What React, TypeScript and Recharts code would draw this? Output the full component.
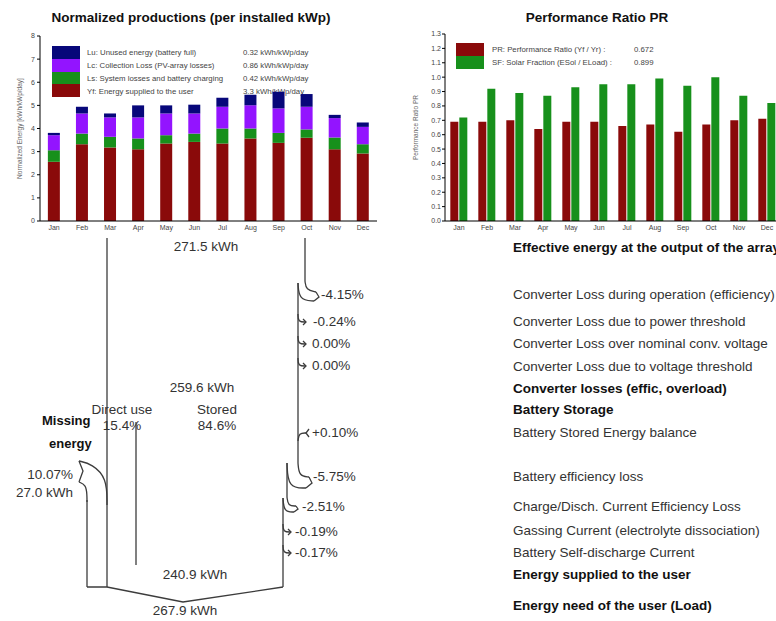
import React from "react";
import { BarChart, Bar, XAxis, YAxis, ComposedChart, Line } from "recharts";

const months = ["Jan", "Feb", "Mar", "Apr", "May", "Jun", "Jul", "Aug", "Sep", "Oct", "Nov", "Dec"];

// normalized productions, kWh/kWp/day (stacked bottom-up)
const yfSupplied = [2.56, 3.32, 3.18, 3.1, 3.35, 3.42, 3.35, 3.57, 3.38, 3.6, 3.1, 2.92];
const lsSystem = [0.5, 0.46, 0.46, 0.47, 0.36, 0.36, 0.65, 0.43, 0.43, 0.36, 0.51, 0.4];
const lcCollection = [0.65, 0.87, 0.84, 0.91, 0.94, 0.87, 0.94, 1.01, 1.06, 0.98, 0.84, 0.75];
const luUnused = [0.1, 0.29, 0.17, 0.52, 0.35, 0.38, 0.39, 0.45, 0.72, 0.55, 0.14, 0.19];

// performance ratio and solar fraction
const prRatio = [0.69, 0.69, 0.7, 0.64, 0.69, 0.69, 0.66, 0.67, 0.62, 0.67, 0.7, 0.71];
const sfFraction = [0.72, 0.92, 0.89, 0.87, 0.93, 0.95, 0.95, 0.99, 0.94, 1.0, 0.87, 0.82];

const energyTicks = [0, 1, 2, 3, 4, 5, 6, 7, 8];
const ratioTicks = [0, 0.1, 0.2, 0.3, 0.4, 0.5, 0.6, 0.7, 0.8, 0.9, 1.0, 1.1, 1.2, 1.3];
const monthEdges = [1, 2, 3, 4, 5, 6, 7, 8, 9, 10, 11];

const productionLegend = [
  { key: "lu", name: "Lu: Unused energy (battery full)", value: "0.32 kWh/kWp/day" },
  { key: "lc", name: "Lc: Collection Loss (PV-array losses)", value: "0.86 kWh/kWp/day" },
  { key: "ls", name: "Ls: System losses and battery charging", value: "0.42 kWh/kWp/day" },
  { key: "yf", name: "Yf: Energy supplied to the user", value: "3.3 kWh/kWp/day" },
];
const ratioLegend = [
  { key: "pr", name: "PR: Performance Ratio (Yf / Yr) :", value: "0.672" },
  { key: "sf", name: "SF: Solar Fraction (ESol / ELoad) :", value: "0.899" },
];

// loss diagram texts
const lossPercents = ["-4.15%", "-0.24%", "0.00%", "0.00%", "+0.10%", "-5.75%", "-2.51%", "-0.19%", "-0.17%"];
const flowSteps = [
  "Effective energy at the output of the array",
  "Converter Loss during operation (efficiency)",
  "Converter Loss due to power threshold",
  "Converter Loss over nominal conv. voltage",
  "Converter Loss due to voltage threshold",
  "Converter losses (effic, overload)",
  "Battery Storage",
  "Battery Stored Energy balance",
  "Battery efficiency loss",
  "Charge/Disch. Current Efficiency Loss",
  "Gassing Current (electrolyte dissociation)",
  "Battery Self-discharge Current",
  "Energy supplied to the user",
  "Energy need of the user (Load)",
];
const boldSteps = [0, 5, 6, 12, 13];

// diagram strokes, in page pixels
const arrayLeftTrunk = [{ x: 107, y: 238 }, { x: 107, y: 587 }];
const arrayRightTrunk = [{ x: 305, y: 238 }, { x: 305, y: 281 }];
const converterTrunk = [{ x: 298, y: 283 }, { x: 298, y: 463 }];
const batteryTrunk = [{ x: 287, y: 463 }, { x: 287, y: 497 }];
const userTrunk = [{ x: 283, y: 498 }, { x: 283, y: 587 }];
const storedLine = [{ x: 136, y: 422 }, { x: 136, y: 565 }];
const loadBase = [{ x: 87, y: 587 }, { x: 107, y: 587 }, { x: 183, y: 602 }, { x: 283, y: 587 }];
const missingFeed = [{ x: 87, y: 587 }, { x: 87, y: 500 }];
const missingUpper = [{ x: 107, y: 505 }, { x: 107, y: 478 }, { x: 92, y: 464 }, { x: 79, y: 461 }];
const missingLower = [{ x: 79, y: 482 }, { x: 86, y: 485 }, { x: 87, y: 495 }, { x: 87, y: 502 }];
const missingNotch = [{ x: 79, y: 461 }, { x: 83, y: 471 }, { x: 79, y: 482 }];
const converterLossOuter = [{ x: 305, y: 281 }, { x: 306, y: 290 }, { x: 316, y: 292 }];
const converterLossInner = [{ x: 298, y: 283 }, { x: 299, y: 300 }, { x: 314, y: 301 }];
const converterLossTip = [{ x: 316, y: 292 }, { x: 319, y: 297 }, { x: 314, y: 301 }];
const batteryLossOuter = [{ x: 298, y: 463 }, { x: 299, y: 476 }, { x: 309, y: 477 }];
const batteryLossInner = [{ x: 287, y: 463 }, { x: 288, y: 488 }, { x: 306, y: 488 }];
const batteryLossTip = [{ x: 309, y: 477 }, { x: 312, y: 483 }, { x: 306, y: 488 }];
const chargeLossOuter = [{ x: 287, y: 497 }, { x: 288, y: 506 }, { x: 296, y: 506 }];
const chargeLossInner = [{ x: 283, y: 498 }, { x: 284, y: 512 }, { x: 294, y: 512 }];
const chargeLossTip = [{ x: 296, y: 506 }, { x: 298, y: 509 }, { x: 294, y: 512 }];
const storageGainCurl = [{ x: 306, y: 433 }, { x: 299, y: 433 }, { x: 298, y: 441 }];
const storageGainTip = [{ x: 309, y: 429 }, { x: 306, y: 433 }, { x: 309, y: 437 }];
const smallLossHooks = [
  { x: 298, y: 322 },
  { x: 298, y: 344 },
  { x: 298, y: 366 },
  { x: 283, y: 532 },
  { x: 283, y: 553 },
];

const COLORS = {
  yf: "#8a0a0a",
  ls: "#17901b",
  lc: "#9314ff",
  lu: "#07077a",
  pr: "#8a0a0a",
  sf: "#17901b",
};
const INK = "#333";
const FONT = '"Liberation Sans", Arial, sans-serif';

const productionRows = months.map((month, i) => ({
  month,
  yf: yfSupplied[i],
  ls: lsSystem[i],
  lc: lcCollection[i],
  lu: luUnused[i],
}));
const ratioRows = months.map((month, i) => ({ month, pr: prRatio[i], sf: sfFraction[i] }));

const emptyTick = () => <g />;
const axisStroke = { stroke: "#000" };
const tickFont = { fontSize: 7, fill: "#444", fontFamily: FONT };

type Pt = { x: number; y: number };

const hookCurve = (p: Pt): Pt[] => [
  { x: p.x, y: p.y - 8 },
  { x: p.x, y: p.y },
  { x: p.x + 8, y: p.y },
];
const hookTip = (p: Pt): Pt[] => [
  { x: p.x + 5, y: p.y - 3 },
  { x: p.x + 8, y: p.y },
  { x: p.x + 5, y: p.y + 3 },
];

const flowPaths: { points: Pt[]; curve: "linear" | "basis" }[] = [
  { points: arrayLeftTrunk, curve: "linear" },
  { points: arrayRightTrunk, curve: "linear" },
  { points: converterTrunk, curve: "linear" },
  { points: batteryTrunk, curve: "linear" },
  { points: userTrunk, curve: "linear" },
  { points: storedLine, curve: "linear" },
  { points: loadBase, curve: "linear" },
  { points: missingFeed, curve: "linear" },
  { points: missingUpper, curve: "basis" },
  { points: missingLower, curve: "basis" },
  { points: missingNotch, curve: "linear" },
  { points: converterLossOuter, curve: "basis" },
  { points: converterLossInner, curve: "basis" },
  { points: converterLossTip, curve: "linear" },
  { points: batteryLossOuter, curve: "basis" },
  { points: batteryLossInner, curve: "basis" },
  { points: batteryLossTip, curve: "linear" },
  { points: chargeLossOuter, curve: "basis" },
  { points: chargeLossInner, curve: "basis" },
  { points: chargeLossTip, curve: "linear" },
  { points: storageGainCurl, curve: "basis" },
  { points: storageGainTip, curve: "linear" },
  ...smallLossHooks.map((p) => ({ points: hookCurve(p), curve: "basis" as const })),
  ...smallLossHooks.map((p) => ({ points: hookTip(p), curve: "linear" as const })),
];

// where the diagram texts sit
const lossPercentSpots = [
  [321, 295],
  [313, 322],
  [312, 344],
  [312, 366],
  [312, 433],
  [313, 477],
  [302, 507],
  [295, 532],
  [295, 553],
];
const flowStepRows = [248, 295, 322, 344, 367, 389, 410, 433, 477, 507, 531, 553, 575, 606];

function ProductionChart() {
  return (
    <BarChart
      width={390}
      height={240}
      data={productionRows}
      margin={{ top: 36, right: 13, bottom: 0, left: 0 }}
      barCategoryGap="28%"
    >
      <XAxis
        dataKey="month"
        height={19}
        interval={0}
        tickLine={false}
        tickSize={2}
        tickMargin={2}
        axisLine={axisStroke}
        tick={tickFont}
      />
      <XAxis
        xAxisId="edgeTop"
        orientation="top"
        type="number"
        domain={[0, 12]}
        ticks={monthEdges}
        mirror
        height={0}
        tickSize={3}
        tick={emptyTick}
        axisLine={axisStroke}
        tickLine={axisStroke}
      />
      <XAxis
        xAxisId="edgeBottom"
        orientation="bottom"
        type="number"
        domain={[0, 12]}
        ticks={monthEdges}
        mirror
        height={0}
        tickSize={3}
        tick={emptyTick}
        axisLine={false}
        tickLine={axisStroke}
      />
      <YAxis
        width={40}
        domain={[0, 8]}
        ticks={energyTicks}
        interval={0}
        tickSize={3}
        tickMargin={2}
        tick={tickFont}
        axisLine={axisStroke}
        tickLine={axisStroke}
        label={{
          value: "Normalized Energy [kWh/kWp/day]",
          angle: -90,
          position: "insideLeft",
          offset: 20,
          style: { textAnchor: "middle", fontSize: 6.5, fill: "#666", fontFamily: FONT },
        }}
      />
      <YAxis
        yAxisId="edgeRight"
        orientation="right"
        mirror
        width={0}
        domain={[0, 8]}
        ticks={energyTicks}
        tickSize={3}
        tick={emptyTick}
        axisLine={axisStroke}
        tickLine={axisStroke}
      />
      <Bar dataKey="yf" stackId="e" fill={COLORS.yf} isAnimationActive={false} />
      <Bar dataKey="ls" stackId="e" fill={COLORS.ls} isAnimationActive={false} />
      <Bar dataKey="lc" stackId="e" fill={COLORS.lc} isAnimationActive={false} />
      <Bar dataKey="lu" stackId="e" fill={COLORS.lu} isAnimationActive={false} />
    </BarChart>
  );
}

function RatioChart() {
  return (
    <BarChart
      width={400}
      height={240}
      data={ratioRows}
      margin={{ top: 34, right: 14, bottom: 0, left: 0 }}
      barCategoryGap="19%"
      barGap={1}
    >
      <XAxis
        dataKey="month"
        height={19}
        interval={0}
        tickLine={false}
        tickSize={2}
        tickMargin={2}
        axisLine={axisStroke}
        tick={tickFont}
      />
      <XAxis
        xAxisId="edgeTop"
        orientation="top"
        type="number"
        domain={[0, 12]}
        ticks={monthEdges}
        mirror
        height={0}
        tickSize={3}
        tick={emptyTick}
        axisLine={axisStroke}
        tickLine={axisStroke}
      />
      <XAxis
        xAxisId="edgeBottom"
        orientation="bottom"
        type="number"
        domain={[0, 12]}
        ticks={monthEdges}
        mirror
        height={0}
        tickSize={3}
        tick={emptyTick}
        axisLine={false}
        tickLine={axisStroke}
      />
      <YAxis
        width={50}
        domain={[0, 1.3]}
        ticks={ratioTicks}
        interval={0}
        tickSize={3}
        tickMargin={1}
        tick={tickFont}
        tickFormatter={(v: number) => v.toFixed(1)}
        axisLine={axisStroke}
        tickLine={axisStroke}
        label={{
          value: "Performance Ratio PR",
          angle: -90,
          position: "insideLeft",
          offset: 21,
          style: { textAnchor: "middle", fontSize: 6.5, fill: "#666", fontFamily: FONT },
        }}
      />
      <YAxis
        yAxisId="edgeRight"
        orientation="right"
        mirror
        width={0}
        domain={[0, 1.3]}
        ticks={ratioTicks}
        tickSize={3}
        tick={emptyTick}
        axisLine={axisStroke}
        tickLine={axisStroke}
      />
      <Bar dataKey="pr" fill={COLORS.pr} isAnimationActive={false} />
      <Bar dataKey="sf" fill={COLORS.sf} isAnimationActive={false} />
    </BarChart>
  );
}

function LossDiagram() {
  return (
    <ComposedChart width={776} height={621} margin={{ top: 0, right: 0, bottom: 0, left: 0 }}>
      <XAxis type="number" dataKey="x" domain={[0, 776]} allowDataOverflow hide />
      <YAxis type="number" domain={[0, 621]} reversed allowDataOverflow hide />
      {flowPaths.map((p, i) => (
        <Line
          key={i}
          data={p.points}
          dataKey="y"
          type={p.curve}
          stroke="#3c3c3c"
          strokeWidth={1.3}
          dot={false}
          activeDot={false}
          isAnimationActive={false}
        />
      ))}
    </ComposedChart>
  );
}

const abs = (left: number, top: number): React.CSSProperties => ({ position: "absolute", left, top });

function Label({
  x,
  y,
  text,
  align = "left",
  bold = false,
  size = 13.5,
  color,
}: {
  x: number;
  y: number;
  text: string;
  align?: "left" | "center" | "right";
  bold?: boolean;
  size?: number;
  color?: string;
}) {
  const w = 320;
  const left = align === "left" ? x : align === "center" ? x - w / 2 : x - w;
  return (
    <div
      style={{
        ...abs(left, y - 9),
        width: w,
        height: 18,
        lineHeight: "18px",
        fontSize: size,
        fontWeight: bold ? 700 : 400,
        color: color ?? (bold ? "#111" : INK),
        textAlign: align,
        whiteSpace: "nowrap",
      }}
    >
      {text}
    </div>
  );
}

export default function App() {
  return (
    <div
      style={{
        position: "absolute",
        left: 0,
        top: 0,
        width: 776,
        height: 621,
        overflow: "hidden",
        background: "#fff",
        fontFamily: FONT,
      }}
    >
      {/* legend texts sit under the bars, the tallest bars cover them */}
      {productionLegend.map((l, i) => (
        <React.Fragment key={l.key}>
          <Label x={87} y={52.5 + i * 13} text={l.name} size={7.8} color="#444" />
          <Label x={243} y={52.5 + i * 13} text={l.value} size={7.8} color="#444" />
        </React.Fragment>
      ))}
      {ratioLegend.map((l, i) => (
        <React.Fragment key={l.key}>
          <Label x={492} y={49.5 + i * 13} text={l.name} size={7.8} color="#444" />
          <Label x={634} y={49.5 + i * 13} text={l.value} size={7.8} color="#444" />
        </React.Fragment>
      ))}

      <div style={abs(0, 0)}>
        <ProductionChart />
      </div>
      <div style={abs(395, 0)}>
        <RatioChart />
      </div>

      <Label x={191} y={18} text="Normalized productions (per installed kWp)" align="center" bold size={13.5} />
      <Label x={597} y={18} text="Performance Ratio PR" align="center" bold size={13.5} />

      {/* legend swatches */}
      <div style={{ ...abs(52, 46), width: 28, height: 51 }}>
        {productionLegend.map((l) => (
          <div key={l.key} style={{ height: 12.75, background: COLORS[l.key as keyof typeof COLORS] }} />
        ))}
      </div>
      <div style={{ ...abs(456, 43), width: 28, height: 26 }}>
        {ratioLegend.map((l) => (
          <div key={l.key} style={{ height: 13, background: COLORS[l.key as keyof typeof COLORS] }} />
        ))}
      </div>

      <div style={abs(0, 0)}>
        <LossDiagram />
      </div>

      <Label x={206} y={247} text="271.5 kWh" align="center" />
      <Label x={202} y={388} text="259.6 kWh" align="center" />
      <Label x={122} y={410} text="Direct use" align="center" />
      <Label x={217} y={410} text="Stored" align="center" />
      <Label x={42} y={421} text="Missing" bold size={13} />
      <Label x={122} y={426} text="15.4%" align="center" />
      <Label x={217} y={426} text="84.6%" align="center" />
      <Label x={49} y={444} text="energy" bold size={13} />
      <Label x={73} y={475} text="10.07%" align="right" />
      <Label x={73} y={493} text="27.0 kWh" align="right" />
      <Label x={195} y={575} text="240.9 kWh" align="center" />
      <Label x={185} y={611} text="267.9 kWh" align="center" />

      {lossPercents.map((t, i) => (
        <Label key={i} x={lossPercentSpots[i][0]} y={lossPercentSpots[i][1]} text={t} />
      ))}
      {flowSteps.map((t, i) => (
        <Label key={t} x={513} y={flowStepRows[i]} text={t} bold={boldSteps.includes(i)} />
      ))}
    </div>
  );
}
